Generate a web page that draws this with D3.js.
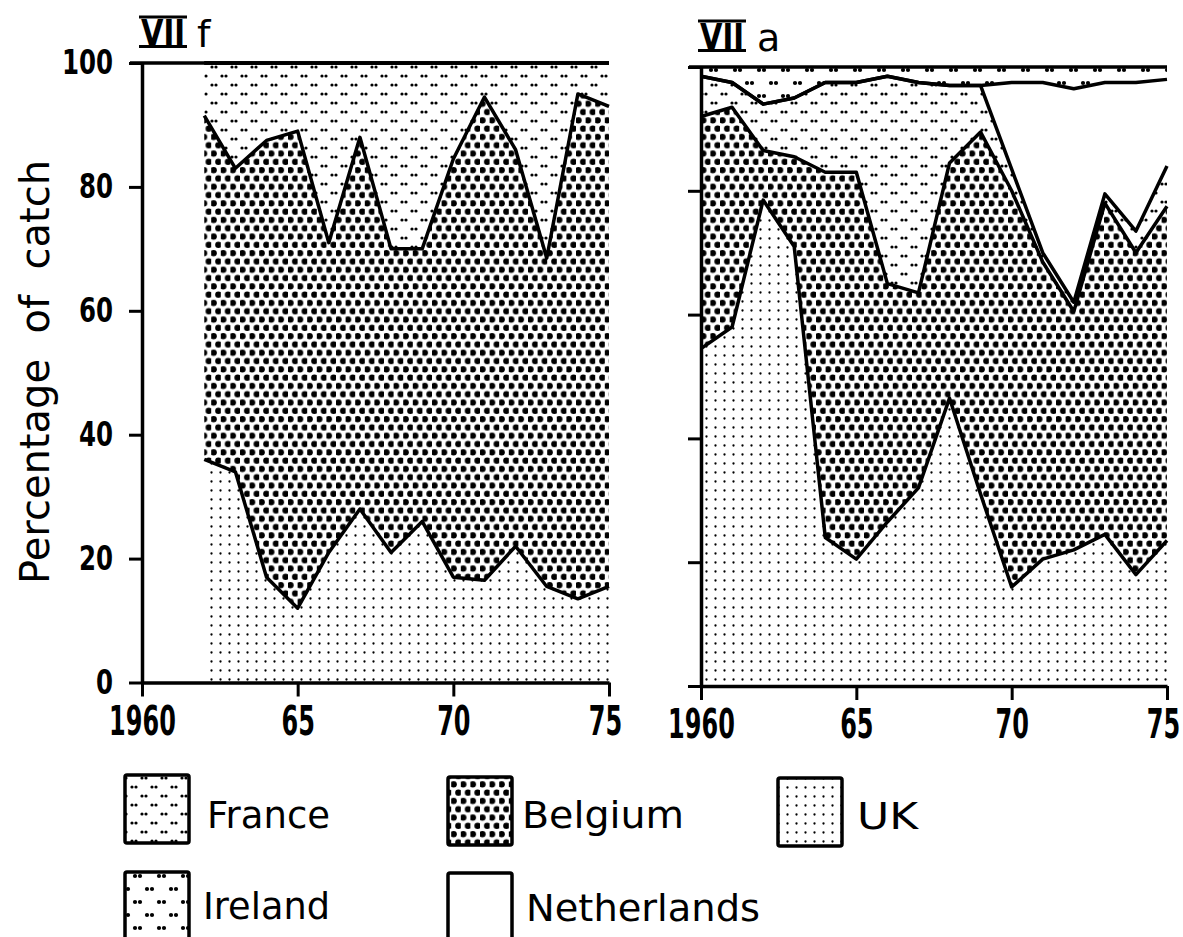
<html>
<head>
<script src="https://d3js.org/d3.v7.min.js"></script>
<style>
  body { margin: 0; background: #fff; }
  text { font-family: "DejaVu Sans", sans-serif; fill: #000; }
</style>
</head>
<body>
<svg id="chart" width="1183" height="937"></svg>
<script>
// stacking order, bottom to top
const keys = ["UK", "Belgium", "France", "Netherlands", "Ireland"];

// panel VII f (shares in % of catch)
const yearsF = [1962, 1963, 1964, 1965, 1966, 1967, 1968, 1969, 1970, 1971, 1972, 1973, 1974, 1975];
const ukF = [36, 34, 17, 12, 21, 28, 21, 26, 17, 16.5, 22, 15.5, 13.5, 15.5];
const belgiumF = [55.5, 49, 70.5, 77, 50, 60, 49, 44, 67.5, 78, 64, 53, 81.5, 77.5];
const franceF = [8.5, 17, 12.5, 11, 29, 12, 30, 30, 15.5, 5.5, 14, 31.5, 5, 7];

// panel VII a
const yearsA = [1960, 1961, 1962, 1963, 1964, 1965, 1966, 1967, 1968, 1969, 1970, 1971, 1972, 1973, 1974, 1975];
const ukA = [54.5, 58, 78.5, 71, 24, 20.5, 26.5, 32, 46.5, 31, 16, 20.5, 22, 24.5, 18, 23.5];
const belgiumA = [37.5, 35.5, 8, 14.5, 59, 62.5, 38.5, 31.5, 38, 58.5, 64, 48, 38.5, 53.5, 52, 54];
const franceA = [6.5, 4, 7.5, 9.5, 14.5, 14.5, 33.5, 34, 12.5, 7.5, 3.5, 1.5, 1.5, 1.5, 3.5, 6.5];
const netherlandsA = [0, 0, 0, 0, 0, 0, 0, 0, 0, 0, 14, 27.5, 34.5, 18, 24, 14];
const irelandA = [1.5, 2.5, 6, 5, 2.5, 2.5, 1.5, 2.5, 3, 3, 2.5, 2.5, 3.5, 2.5, 2.5, 2];

const yTicks = [0, 20, 40, 60, 80, 100];
const xTicks = [1960, 1965, 1970, 1975];
const xTickLabels = ["1960", "65", "70", "75"];
const legendNames = ["France", "Belgium", "UK", "Ireland", "Netherlands"];

const svg = d3.select("#chart");
const defs = svg.append("defs");

function dotPattern(id, w, h, dots, r) {
    const p = defs.append("pattern")
        .attr("id", id)
        .attr("patternUnits", "userSpaceOnUse")
        .attr("width", w)
        .attr("height", h);
    p.append("rect").attr("width", w).attr("height", h).attr("fill", "#fff");
    dots.forEach(d => {
        p.append("circle").attr("cx", d[0]).attr("cy", d[1]).attr("r", r).attr("fill", "#000");
    });
}
dotPattern("pat-UK", 9, 9, [[4.5, 4.5]], 1.15);
dotPattern("pat-Belgium", 9.6, 16.6, [[2.4, 4.15], [7.2, 12.45]], 3.2);
dotPattern("pat-France", 20, 18, [[2, 4], [6, 4], [12, 13], [16, 13]], 1.6);
dotPattern("pat-Ireland", 24, 26, [[3, 5], [8, 5], [15, 18], [20, 18]], 2.1);
dotPattern("pat-Netherlands", 10, 10, [], 0);

const rowsF = yearsF.map((yr, i) => ({
    year: yr, UK: ukF[i], Belgium: belgiumF[i], France: franceF[i], Netherlands: 0, Ireland: 0
}));
const rowsA = yearsA.map((yr, i) => ({
    year: yr, UK: ukA[i], Belgium: belgiumA[i], France: franceA[i], Netherlands: netherlandsA[i], Ireland: irelandA[i]
}));

// condensed look for the numbers
const ySqueeze = 0.72, xSqueeze = 0.6;

function drawPanel(rows, cfg) {
    const x = d3.scaleLinear().domain([1960, 1975]).range([cfg.left, cfg.right]);
    const y = d3.scaleLinear().domain([0, 100]).range([cfg.bottom, cfg.top]);
    const series = d3.stack().keys(keys)(rows);
    const g = svg.append("g");

    const area = d3.area()
        .x(d => x(d.data.year))
        .y0(d => y(d[0]))
        .y1(d => y(d[1]));
    g.selectAll("path.layer").data(series)
        .join("path")
        .attr("class", "layer")
        .attr("d", area)
        .attr("fill", s => `url(#pat-${s.key})`);

    // boundary lines between countries
    const line = d3.line().x(d => x(d.data.year)).y(d => y(d[1]));
    g.selectAll("path.edge").data(series.filter(s => s.key != "Ireland"))
        .join("path")
        .attr("class", "edge")
        .attr("d", line)
        .attr("fill", "none")
        .attr("stroke", "#000")
        .attr("stroke-width", 3.5)
        .attr("stroke-linejoin", "round");

    // 100% border
    g.append("line")
        .attr("x1", x(1960) - 12).attr("x2", x(1975))
        .attr("y1", y(100)).attr("y2", y(100))
        .attr("stroke", "#000").attr("stroke-width", 3.5);

    const yAxis = d3.axisLeft(y).tickValues(yTicks).tickSize(13).tickSizeOuter(0).tickPadding(16)
        .tickFormat(cfg.labels ? d => d : "");
    const ya = g.append("g").attr("transform", `translate(${cfg.left},0)`).call(yAxis);
    ya.select(".domain").attr("stroke-width", 3.5);
    ya.selectAll(".tick line").attr("stroke-width", 3);
    ya.selectAll("text")
        .attr("font-family", "DejaVu Sans")
        .attr("font-weight", "bold")
        .attr("font-size", 34)
        .attr("x", -29 / ySqueeze)
        .attr("transform", `scale(${ySqueeze},1)`);

    const xAxis = d3.axisBottom(x).tickValues(xTicks).tickSize(14).tickSizeOuter(0).tickPadding(10)
        .tickFormat((d, i) => xTickLabels[i]);
    const xa = g.append("g").attr("transform", `translate(0,${cfg.bottom})`).call(xAxis);
    xa.select(".domain").attr("stroke-width", 3.5);
    xa.selectAll(".tick line").attr("stroke-width", 3);
    xa.selectAll("text")
        .attr("font-family", "DejaVu Sans")
        .attr("font-weight", "bold")
        .attr("font-size", 40)
        .attr("x", (d, i) => i == 3 ? -4 / xSqueeze : 0)
        .attr("transform", `scale(${xSqueeze},1)`);

    // panel title: roman numeral with bars
    const t = svg.append("g").attr("transform", `translate(${cfg.left - 2},0)`);
    t.append("text")
        .attr("x", 1).attr("y", cfg.titleY)
        .attr("font-weight", "bold")
        .attr("font-size", 36)
        .attr("textLength", 44)
        .attr("lengthAdjust", "spacingAndGlyphs")
        .text("VII");
    t.append("line").attr("x1", -1).attr("x2", 47)
        .attr("y1", cfg.titleY - 28).attr("y2", cfg.titleY - 28)
        .attr("stroke", "#000").attr("stroke-width", 3);
    t.append("line").attr("x1", -1).attr("x2", 47)
        .attr("y1", cfg.titleY + 1.5).attr("y2", cfg.titleY + 1.5)
        .attr("stroke", "#000").attr("stroke-width", 3);
    t.append("text")
        .attr("x", cfg.subX).attr("y", cfg.titleY + 2)
        .attr("font-size", 38)
        .text(cfg.sub);
}

drawPanel(rowsF, { left: 142, right: 609, bottom: 682.5, top: 63, labels: true, titleY: 45, sub: "f", subX: 57 });
drawPanel(rowsA, { left: 701, right: 1167, bottom: 686, top: 67, labels: false, titleY: 49, sub: "a", subX: 58 });

// y axis title
svg.append("text")
    .attr("transform", "translate(49,372) rotate(-90)")
    .attr("text-anchor", "middle")
    .attr("font-size", 40)
    .style("white-space", "pre")
    .text("Percentage  of  catch");

// legend
const legendPos = [
    { bx: 125, by: 775, tx: 207, ty: 828, tl: 123 },
    { bx: 448, by: 777, tx: 522, ty: 828, tl: 162 },
    { bx: 778, by: 778, tx: 857, ty: 829, tl: 61 },
    { bx: 125, by: 872, tx: 203, ty: 919, tl: 127 },
    { bx: 448, by: 873, tx: 526, ty: 921, tl: 234 }
];
const lg = svg.append("g").selectAll("g").data(legendNames).join("g");
lg.append("rect")
    .attr("x", (d, i) => legendPos[i].bx)
    .attr("y", (d, i) => legendPos[i].by)
    .attr("width", 64).attr("height", 68)
    .attr("rx", 2)
    .attr("fill", d => `url(#pat-${d})`)
    .attr("stroke", "#000").attr("stroke-width", 3.5);
lg.append("text")
    .attr("x", (d, i) => legendPos[i].tx)
    .attr("y", (d, i) => legendPos[i].ty)
    .attr("font-size", 38)
    .attr("textLength", (d, i) => legendPos[i].tl)
    .attr("lengthAdjust", "spacingAndGlyphs")
    .text(d => d);
</script>
</body>
</html>
